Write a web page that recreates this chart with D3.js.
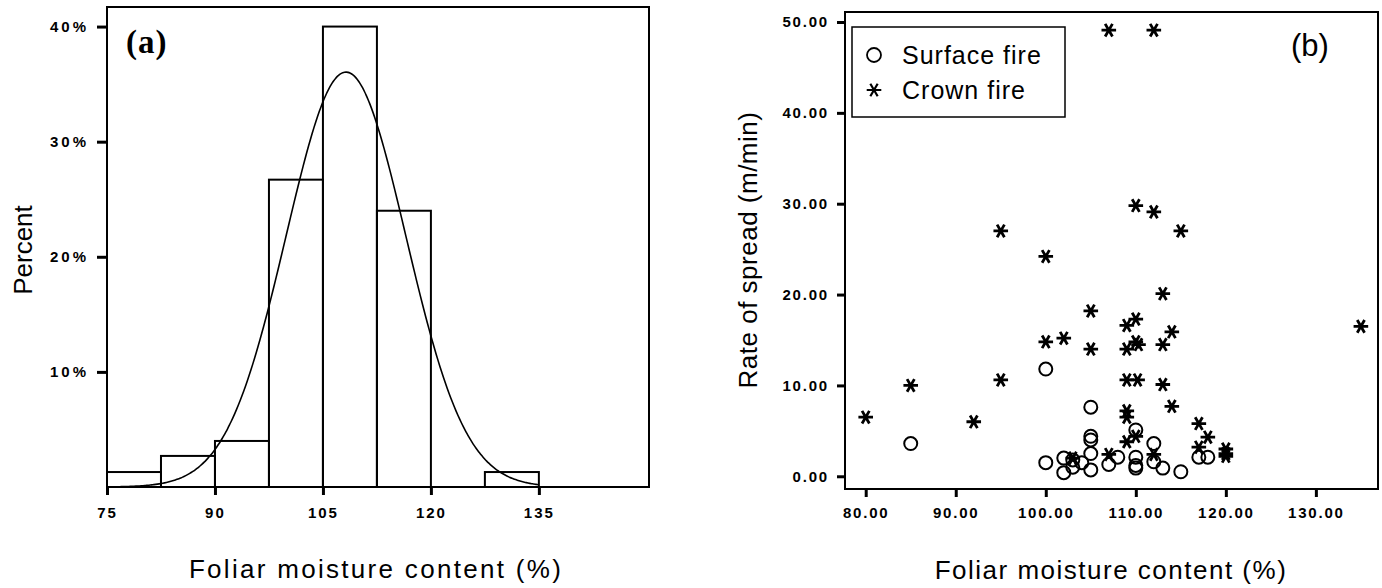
<!DOCTYPE html>
<html>
<head>
<meta charset="utf-8">
<script src="https://cdn.jsdelivr.net/npm/d3@7"></script>
<style>
  body { margin: 0; background: #fff; }
  svg text { font-family: "Liberation Sans", Arial, sans-serif; fill: #000; }
  .tick text { font-weight: bold; }
</style>
</head>
<body>
<div id="wrapper"></div>
<script>
// (a) histogram of foliar moisture content
const binStarts = [75, 82.5, 90, 97.5, 105, 112.5, 127.5]
const binPercents = [1.3, 2.7, 4.0, 26.7, 40.0, 24.0, 1.3]
const binWidth = 7.5
const histXTicks = [75, 90, 105, 120, 135]
const histYTicks = [10, 20, 30, 40]
// fitted normal curve parameters
const fitMean = 108.2
const fitSd = 8.3

// (b) rate of spread vs foliar moisture content
const surfaceX = [85, 100, 100, 102, 102, 103, 103, 104, 105, 105, 105, 105, 105, 107, 108, 110, 110, 110, 110, 112, 112, 113, 115, 117, 118]
const surfaceY = [3.6, 11.8, 1.5, 2.0, 0.4, 1.8, 1.0, 1.5, 7.6, 4.4, 4.0, 2.5, 0.7, 1.3, 2.1, 5.1, 2.1, 1.2, 0.9, 3.6, 1.6, 0.9, 0.5, 2.1, 2.1]
const crownX = [80, 85, 92, 95, 95, 100, 100, 102, 103, 105, 105, 107, 107, 109, 110, 109, 110, 110.3, 109, 110.2, 109, 109, 109, 110, 110, 112, 112, 112, 113, 113, 113, 114, 114, 115, 117, 118, 117, 120, 120, 120, 135]
const crownY = [6.5, 10.0, 6.0, 27.0, 10.6, 24.2, 14.8, 15.2, 2.0, 18.2, 14.0, 49.1, 2.4, 16.6, 17.3, 14.0, 14.8, 14.5, 10.6, 10.6, 7.2, 6.5, 3.8, 4.4, 29.8, 29.1, 49.1, 2.4, 20.1, 14.5, 10.1, 15.9, 7.7, 27.0, 5.8, 4.3, 3.2, 3.0, 2.5, 2.2, 16.5]
const scatterXTicks = [80, 90, 100, 110, 120, 130]
const scatterYTicks = [0, 10, 20, 30, 40, 50]

const svg = d3.select("#wrapper")
  .append("svg")
    .attr("width", 1382)
    .attr("height", 588)

function styleAxis(g, fontSize, spacing) {
  g.select(".domain").remove()
  g.selectAll(".tick line").attr("stroke", "#000").attr("stroke-width", 3)
  g.selectAll(".tick text")
    .attr("fill", "#000")
    .style("font-size", fontSize + "px")
    .style("letter-spacing", spacing + "px")
}

// ---------- (a) histogram ----------
const hist = { left: 107, right: 649, top: 7, bottom: 487 }

const hx = d3.scaleLinear().domain([75, 150.3]).range([hist.left, hist.right])
const hy = d3.scaleLinear().domain([0, 41.7]).range([hist.bottom, hist.top])

const histG = svg.append("g")

histG.selectAll("rect.bar")
  .data(binStarts)
  .join("rect")
    .attr("class", "bar")
    .attr("x", d => hx(d))
    .attr("width", d => hx(d + binWidth) - hx(d))
    .attr("y", (d, i) => hy(binPercents[i]))
    .attr("height", (d, i) => hy(0) - hy(binPercents[i]))
    .attr("fill", "none")
    .attr("stroke", "#000")
    .attr("stroke-width", 2)

const normalPct = x => 100 * binWidth * Math.exp(-0.5 * ((x - fitMean) / fitSd) ** 2) / (fitSd * Math.sqrt(2 * Math.PI))
const curveXs = d3.range(75, 135.01, 0.25)
histG.append("path")
  .attr("d", d3.line().x(d => hx(d)).y(d => hy(normalPct(d))).curve(d3.curveBasis)(curveXs))
  .attr("fill", "none")
  .attr("stroke", "#000")
  .attr("stroke-width", 1.6)

histG.append("rect")
  .attr("x", hist.left)
  .attr("y", hist.top)
  .attr("width", hist.right - hist.left)
  .attr("height", hist.bottom - hist.top)
  .attr("fill", "none")
  .attr("stroke", "#000")
  .attr("stroke-width", 2)

histG.append("g")
  .attr("transform", `translate(${hist.left},0)`)
  .call(d3.axisLeft(hy).tickValues(histYTicks).tickSize(10).tickPadding(8).tickFormat(d => d + "%"))
  .call(g => styleAxis(g, 15, 3))

histG.append("g")
  .attr("transform", `translate(0,${hist.bottom})`)
  .call(d3.axisBottom(hx).tickValues(histXTicks).tickSize(8).tickPadding(12).tickFormat(d3.format("d")))
  .call(g => styleAxis(g, 15, 2))

histG.append("text")
  .attr("x", 126)
  .attr("y", 53)
  .style("font-family", "'Liberation Serif', 'Times New Roman', serif")
  .style("font-weight", "bold")
  .style("font-size", "33px")
  .style("letter-spacing", "1px")
  .text("(a)")

histG.append("text")
  .attr("transform", "translate(32,250) rotate(-90)")
  .attr("text-anchor", "middle")
  .style("font-size", "26px")
  .text("Percent")

histG.append("text")
  .attr("x", 376)
  .attr("y", 578)
  .attr("text-anchor", "middle")
  .style("font-size", "26px")
  .style("letter-spacing", "2.3px")
  .text("Foliar moisture content (%)")

// ---------- (b) scatter ----------
const sc = { left: 845, right: 1378, top: 12, bottom: 489 }

const sx = d3.scaleLinear().domain([77.7, 136.9]).range([sc.left, sc.right])
const sy = d3.scaleLinear().domain([-1.4, 51.1]).range([sc.bottom, sc.top])

const scG = svg.append("g")

scG.append("rect")
  .attr("x", sc.left)
  .attr("y", sc.top)
  .attr("width", sc.right - sc.left)
  .attr("height", sc.bottom - sc.top)
  .attr("fill", "none")
  .attr("stroke", "#000")
  .attr("stroke-width", 2)

scG.append("g")
  .attr("transform", `translate(${sc.left},0)`)
  .call(d3.axisLeft(sy).tickValues(scatterYTicks).tickSize(8).tickPadding(8).tickFormat(d3.format(".2f")))
  .call(g => styleAxis(g, 15, 1.8))

scG.append("g")
  .attr("transform", `translate(0,${sc.bottom})`)
  .call(d3.axisBottom(sx).tickValues(scatterXTicks).tickSize(8).tickPadding(10).tickFormat(d3.format(".2f")))
  .call(g => styleAxis(g, 15, 1.8))

const asterisk = d3.symbol().type(d3.symbolAsterisk).size(150)

scG.append("g")
  .selectAll("circle")
  .data(surfaceX)
  .join("circle")
    .attr("cx", d => sx(d))
    .attr("cy", (d, i) => sy(surfaceY[i]))
    .attr("r", 6.5)
    .attr("fill", "none")
    .attr("stroke", "#000")
    .attr("stroke-width", 2)

scG.append("g")
  .selectAll("path")
  .data(crownX)
  .join("path")
    .attr("transform", (d, i) => `translate(${sx(d)},${sy(crownY[i])}) rotate(90)`)
    .attr("d", asterisk)
    .attr("fill", "none")
    .attr("stroke", "#000")
    .attr("stroke-width", 2.8)

// legend
const legend = scG.append("g")
legend.append("rect")
  .attr("x", 852).attr("y", 27)
  .attr("width", 213).attr("height", 90)
  .attr("fill", "#fff")
  .attr("stroke", "#000")
  .attr("stroke-width", 1.5)
legend.append("circle")
  .attr("cx", 874).attr("cy", 55).attr("r", 7)
  .attr("fill", "none").attr("stroke", "#000").attr("stroke-width", 1.8)
legend.append("path")
  .attr("transform", "translate(874,90) rotate(90)")
  .attr("d", asterisk)
  .attr("fill", "none").attr("stroke", "#000").attr("stroke-width", 2.2)
legend.append("text")
  .attr("x", 902).attr("y", 64)
  .style("font-size", "25px").style("letter-spacing", "1px")
  .text("Surface fire")
legend.append("text")
  .attr("x", 902).attr("y", 99)
  .style("font-size", "25px").style("letter-spacing", "1px")
  .text("Crown fire")

scG.append("text")
  .attr("x", 1291)
  .attr("y", 56)
  .style("font-size", "31px")
  .text("(b)")

scG.append("text")
  .attr("transform", "translate(757,250) rotate(-90)")
  .attr("text-anchor", "middle")
  .style("font-size", "26px")
  .style("letter-spacing", "0.5px")
  .text("Rate of spread (m/min)")

scG.append("text")
  .attr("x", 1111)
  .attr("y", 579)
  .attr("text-anchor", "middle")
  .style("font-size", "26px")
  .style("letter-spacing", "1.5px")
  .text("Foliar moisture content (%)")
</script>
</body>
</html>
